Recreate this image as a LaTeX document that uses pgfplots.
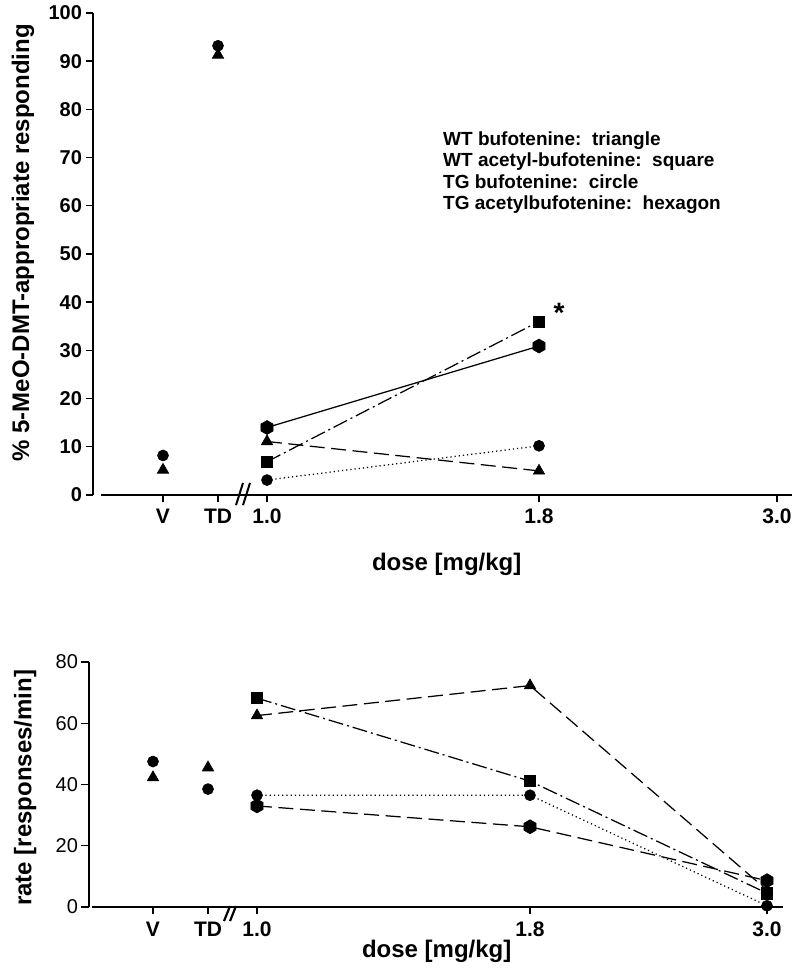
\documentclass[border=0pt]{standalone}
\usepackage{fontspec}
\setmainfont{Liberation Sans}
\usepackage{pgfplots}
\pgfplotsset{compat=1.18}
\usetikzlibrary{plotmarks}

\pgfdeclareplotmark{hexagon*}{%
  \pgfpathmoveto{\pgfqpointpolar{90}{\pgfplotmarksize}}%
  \pgfpathlineto{\pgfqpointpolar{150}{\pgfplotmarksize}}%
  \pgfpathlineto{\pgfqpointpolar{210}{\pgfplotmarksize}}%
  \pgfpathlineto{\pgfqpointpolar{270}{\pgfplotmarksize}}%
  \pgfpathlineto{\pgfqpointpolar{330}{\pgfplotmarksize}}%
  \pgfpathlineto{\pgfqpointpolar{30}{\pgfplotmarksize}}%
  \pgfpathclose
  \pgfusepathqfillstroke}

\tikzset{
  ser/.style={black, line width=1.25pt, mark options={solid, fill=black, line width=0.6pt}},
  tri/.style={ser, mark=triangle*, mark size=6.6pt},
  sqr/.style={ser, mark=square*, mark size=5.6pt},
  cir/.style={ser, mark=*, mark size=5.5pt},
  hex/.style={ser, mark=hexagon*, mark size=7pt},
  longdash/.style={dash pattern=on 15pt off 6.5pt},
  dashdot/.style={dash pattern=on 15pt off 4pt on 2pt off 4pt},
  dots/.style={dash pattern=on 1.2pt off 3pt},
}

\pgfplotsset{
  myaxis/.style={
    scale only axis,
    axis x line*=bottom, axis y line*=left,
    x axis line style={draw=none},
    y axis line style={line width=1.5pt},
    tick align=outside,
    major tick length=7.5pt,
    tick style={black, line width=1.4pt},
    clip=false,
    /pgf/number format/assume math mode=true,
    xticklabel style={font=\bfseries\fontsize{21}{21}\selectfont},
    every axis label/.style={font=\bfseries\fontsize{24}{24}\selectfont},
  }
}

\begin{document}
\begin{tikzpicture}
\useasboundingbox (0,0) rectangle (800pt,974pt);

% ---------------- top panel ----------------
\begin{axis}[myaxis,
  at={(93pt,479pt)}, anchor=south west,
  width=699pt, height=482pt,
  xmin=93, xmax=792, ymin=0, ymax=100,
  ytick={0,10,...,100},
  yticklabel style={font=\bfseries\fontsize{20}{20}\selectfont},
  xtick={163,218,267,539,777},
  xticklabels={V,TD,1.0,1.8,3.0},
  xticklabel style={yshift=-3pt},
  xlabel={dose [mg/kg]},
  ylabel={\% 5-MeO-DMT-appropriate responding},
  xlabel style={at={(axis description cs:0.506,-0.143)}, anchor=center},
  ylabel style={at={(axis description cs:-0.1,0.523)}, anchor=center, rotate=0},
]
\draw[line width=1.5pt] (axis cs:101,0) -- (axis cs:792,0);
\draw[line width=2pt] (axis cs:236,-2.1) -- (axis cs:243,2.5);
\draw[line width=2pt] (axis cs:243,-2.1) -- (axis cs:250,2.5);

% unconnected V and TD points
\addplot[tri, only marks] coordinates {(163,5.2) (218,91.3)};
\addplot[cir, only marks] coordinates {(163,8.2) (218,93.2)};

% WT bufotenine (triangle)
\addplot[tri, longdash] coordinates {(267,11.1) (539,5.0)};
% WT acetyl-bufotenine (square)
\addplot[sqr, dashdot] coordinates {(267,6.9) (539,36.0)};
% TG bufotenine (circle)
\addplot[cir, dots] coordinates {(267,3.1) (539,10.2)};
% TG acetylbufotenine (hexagon)
\addplot[hex] coordinates {(267,14.0) (539,30.9)};

\node[font=\bfseries\fontsize{28}{28}\selectfont, anchor=center] at (axis cs:559,37.7) {*};

\begin{scope}[every node/.style={anchor=base west, font=\bfseries\fontsize{19}{19}\selectfont, inner sep=0pt}]
\node at (axis cs:443,72.6) {WT bufotenine:~~triangle};
\node at (axis cs:443,68.1) {WT acetyl-bufotenine:~~square};
\node at (axis cs:443,63.6) {TG bufotenine:~~circle};
\node at (axis cs:443,59.2) {TG acetylbufotenine:~~hexagon};
\end{scope}
\end{axis}

% ---------------- bottom panel ----------------
\begin{axis}[myaxis,
  at={(89pt,67pt)}, anchor=south west,
  width=694pt, height=245pt,
  xmin=89, xmax=783, ymin=0, ymax=80,
  ytick={0,20,...,80},
  yticklabel style={font=\fontsize{20}{20}\selectfont},
  xtick={153,208,257,530,767},
  xticklabels={V,TD,1.0,1.8,3.0},
  xticklabel style={yshift=-4pt},
  xlabel={dose [mg/kg]},
  ylabel={rate [responses/min]},
  xlabel style={at={(axis description cs:0.501,-0.182)}, anchor=center},
  ylabel style={at={(axis description cs:-0.092,0.486)}, anchor=center, rotate=0},
]
\draw[line width=1.5pt] (axis cs:92,0) -- (axis cs:783,0);
\draw[line width=2.2pt] (axis cs:224,-4.6) -- (axis cs:230,0.3);
\draw[line width=2.2pt] (axis cs:230,-4.6) -- (axis cs:236,0.3);

\addplot[cir, only marks] coordinates {(153,47.5) (208,38.5)};
\addplot[tri, only marks] coordinates {(153,42.3) (208,45.5)};

% TG acetylbufotenine (hexagon)
\addplot[hex, longdash] coordinates {(257,33.0) (530,26.2) (767,8.6)};
% TG bufotenine (circle)
\addplot[cir, dots] coordinates {(257,36.5) (530,36.5) (767,0.4)};
% WT acetyl-bufotenine (square)
\addplot[sqr, dashdot] coordinates {(257,68.2) (530,41.1) (767,4.5)};
% WT bufotenine (triangle)
\addplot[tri, longdash] coordinates {(257,62.5) (530,72.3) (767,5.5)};
\end{axis}
\end{tikzpicture}
\end{document}
